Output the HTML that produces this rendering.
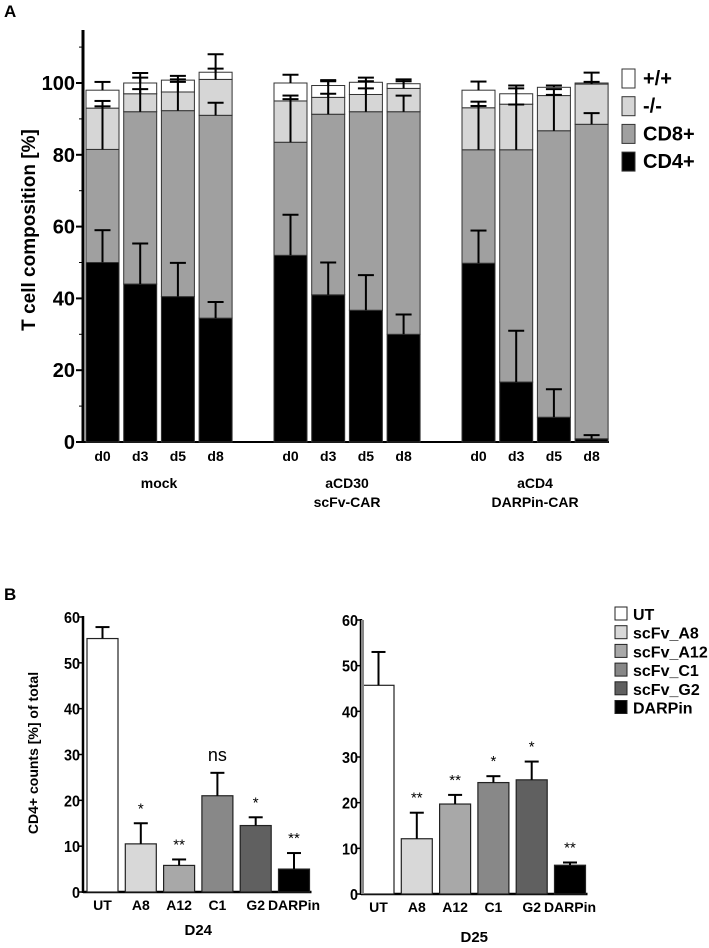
<!DOCTYPE html>
<html><head><meta charset="utf-8"><style>
body{margin:0;background:#fff;}
svg{display:block;font-family:"Liberation Sans",Arial,sans-serif;}
</style></head><body>
<svg id="fig" width="709" height="948" viewBox="0 0 709 948">
<text x="4" y="17" font-size="17" font-weight="bold">A</text>
<text x="4" y="600" font-size="17" font-weight="bold">B</text>
<g id="chartA"></g>
<g id="chartB1"></g>
<g id="chartB2"></g>
</svg>
<script>
// ---------- Chart A data ----------
const aDays = ["d0","d3","d5","d8","d0","d3","d5","d8","d0","d3","d5","d8"];
const aGroups = ["mock","aCD30|scFv-CAR","aCD4|DARPin-CAR"];
const aSeries = ["CD4+","CD8+","-/-","+/+"];
const aCD4 = [50,44,40.5,34.5, 52,41,36.7,30, 49.8,16.7,6.9,0.9];
const aCD8 = [31.5,48,51.8,56.5, 31.5,50.3,55.3,62, 31.6,64.7,79.8,87.6];
const aDN  = [11.5,5,5.2,10, 11.5,4.7,4.8,6.5, 11.7,12.7,9.8,11.2];
const aDP  = [5,3,3.3,2, 5,3.3,3.4,1.3, 4.9,2.9,2.3,0.3];
const aCD4err = [9,11.3,9.4,4.5, 11.3,9,9.8,5.5, 9.1,14.3,7.8,1];
const aCD8err = [12,6.3,8,3.5, 12,5.7,6.5,4.5, 12.2,12.6,10,3.1];
const aDNerr  = [2,4.5,3.5,3, 1.5,4.5,3.7,2, 1.7,4.4,1.8,0.6];
const aDPerr  = [2.3,2.8,1.2,5, 2.3,1.5,1.3,1.2, 2.4,2.3,0.5,2.9];
const aTicks = [0,20,40,60,80,100];

// ---------- Chart B data ----------
const bCats = ["UT","A8","A12","C1","G2","DARPin"];
const bLegend = ["UT","scFv_A8","scFv_A12","scFv_C1","scFv_G2","DARPin"];
const bD24 = [55.3,10.5,5.8,21,14.5,5];
const bD24err = [2.5,4.5,1.3,5,1.8,3.5];
const bD24sig = ["","*","**","ns","*","**"];
const bD25 = [45.7,12.1,19.7,24.4,25,6.3];
const bD25err = [7.3,5.7,2,1.4,4,0.6];
const bD25sig = ["","**","**","*","*","**"];
const bTicks = [0,10,20,30,40,50,60];

const NS="http://www.w3.org/2000/svg";
function mk(parent,tag,attrs,text){const e=document.createElementNS(NS,tag);for(const k in attrs)e.setAttribute(k,attrs[k]);if(text!==undefined)e.textContent=text;parent.appendChild(e);return e;}

// ---------- Chart A ----------
(function(){
 const g=document.getElementById('chartA');
 const y0=442, pxu=3.59;
 const Y=v=>y0-v*pxu;
 const barX=i=>{const grp=Math.floor(i/4), k=i%4;return [86,274,462][grp]+k*37.7;};
 const bw=33;
 const cols={cd4:"#000",cd8:"#a0a0a0",dn:"#d6d6d6",dp:"#fff"};
 let e=mk(g,'line',{x1:83,y1:30,x2:83,y2:y0+1,stroke:"#000","stroke-width":3});
 
 e=mk(g,'line',{x1:82,y1:y0,x2:609,y2:y0,stroke:"#000","stroke-width":2});
 
 for(let v=0;v<=110;v+=10){mk(g,'line',{x1:v%20==0?76:79,y1:Y(v),x2:83,y2:Y(v),stroke:"#000","stroke-width":v%20==0?2:1});}
 aTicks.forEach(v=>{const t=mk(g,'text',{x:75,y:Y(v)+7,"text-anchor":"end","font-size":20,"font-weight":"bold"},String(v));
  });
 e=mk(g,'text',{x:0,y:0,transform:"translate(35,230) rotate(-90)","text-anchor":"middle","font-size":19,"font-weight":"bold"},"T cell composition [%]");
 
 aDays.forEach((d,i)=>{
  const x=barX(i);
  const segs=[[aCD4[i],aCD4err[i],cols.cd4,'cd4'],[aCD8[i],aCD8err[i],cols.cd8,'cd8'],[aDN[i],aDNerr[i],cols.dn,'dn'],[aDP[i],aDPerr[i],cols.dp,'dp']];
  let base=0;const errs=[];
  segs.forEach(s=>{
   const top=base+s[0];
   const r=mk(g,'rect',{x:x,y:Y(top),width:bw,height:Math.max(0,Y(base)-Y(top)),fill:s[2],stroke:"#333","stroke-width":1});
   
   errs.push([top,top+s[1]]);base=top;
  });
  errs.forEach(er=>{const cx=x+bw/2;
   mk(g,'line',{x1:cx,y1:Y(er[0]),x2:cx,y2:Y(er[1]),stroke:"#000","stroke-width":2});
   mk(g,'line',{x1:cx-8,y1:Y(er[1]),x2:cx+8,y2:Y(er[1]),stroke:"#000","stroke-width":2});});
  const t=mk(g,'text',{x:x+bw/2,y:461,"text-anchor":"middle","font-size":14,"font-weight":"bold"},d);
  
 });
 aGroups.forEach((gr,k)=>{const cx=barX(k*4)+(37.7*3+bw)/2;
  gr.split('|').forEach((ln,j)=>{const t=mk(g,'text',{x:cx,y:488+j*19,"text-anchor":"middle","font-size":14,"font-weight":"bold"},ln);
   });});
 const lc=[cols.dp,cols.dn,cols.cd8,cols.cd4];const ll=["+/+","-/-","CD8+","CD4+"];
 ll.forEach((l,j)=>{const yy=69+j*27.7;
  const r=mk(g,'rect',{x:622,y:yy,width:13,height:19,fill:lc[j],stroke:"#333","stroke-width":1});
  
  const t=mk(g,'text',{x:643,y:yy+16,"font-size":20,"font-weight":"bold"},l);
  });
})();

// ---------- Chart B ----------
const bCols=["#fff","#d8d8d8","#a8a8a8","#888","#606060","#000"];
function drawB(id,vals,errs,sig,ax,y0,top,x0,title,titleY){
 const g=document.getElementById(id);const pxu=(y0-top)/60;const Y=v=>y0-v*pxu;
 const pitch=38.3,w=31;
 let e=mk(g,'line',{x1:ax,y1:top-1,x2:ax,y2:y0+1,stroke:"#000","stroke-width":2.5});
 
 e=mk(g,'line',{x1:ax,y1:y0,x2:x0+5*pitch+w+2,y2:y0,stroke:"#000","stroke-width":2.5});
 
 bTicks.forEach(v=>{mk(g,'line',{x1:ax-4,y1:Y(v),x2:ax,y2:Y(v),stroke:"#000","stroke-width":1.5});
  const t=mk(g,'text',{x:ax-3,y:Y(v)+6,"text-anchor":"end","font-size":16,"font-weight":"bold",transform:`translate(${ax-3},0) scale(0.9,1) translate(${-(ax-3)},0)`},String(v));
  });
 bCats.forEach((c,i)=>{const x=x0+i*pitch,cx=x+w/2;
  const r=mk(g,'rect',{x:x,y:Y(vals[i]),width:w,height:y0-Y(vals[i]),fill:bCols[i],stroke:"#222","stroke-width":1.2});
  
  const te=vals[i]+errs[i];
  mk(g,'line',{x1:cx,y1:Y(vals[i]),x2:cx,y2:Y(te),stroke:"#000","stroke-width":2});
  mk(g,'line',{x1:cx-7,y1:Y(te),x2:cx+7,y2:Y(te),stroke:"#000","stroke-width":2});
  if(sig[i]){const s=mk(g,'text',{x:cx,y:Y(te)-(sig[i]=="ns"?12:10),"text-anchor":"middle","font-size":sig[i]=="ns"?18:15},sig[i]);
   }
  const t=mk(g,'text',{x:cx,y:y0+18,"text-anchor":"middle","font-size":14,"font-weight":"bold"},c);
  });
 e=mk(g,'text',{x:x0+2.5*pitch+w/2,y:titleY,"text-anchor":"middle","font-size":15,"font-weight":"bold"},title);
 
}
drawB('chartB1',bD24,bD24err,bD24sig,83,892,617,87,"D24",935);
drawB('chartB2',bD25,bD25err,bD25sig,361,894,620,363,"D25",942);
(function(){const g=document.getElementById('chartB1');
 const e=mk(g,'text',{x:0,y:0,transform:"translate(38,753) rotate(-90)","text-anchor":"middle","font-size":14,"font-weight":"bold"},"CD4+ counts [%] of total");
 
 const g2=document.getElementById('chartB2');
 mk(g2,'rect',{x:361,y:620,width:3,height:274,fill:"#888"});
 bLegend.forEach((l,j)=>{const yy=607+j*18.7;
  const r=mk(g2,'rect',{x:615,y:yy,width:12,height:13,fill:bCols[j],stroke:"#222","stroke-width":1});
  
  const t=mk(g2,'text',{x:633,y:yy+13,"font-size":16,"font-weight":"bold"},l);
  });
})();
</script>
</body></html>
